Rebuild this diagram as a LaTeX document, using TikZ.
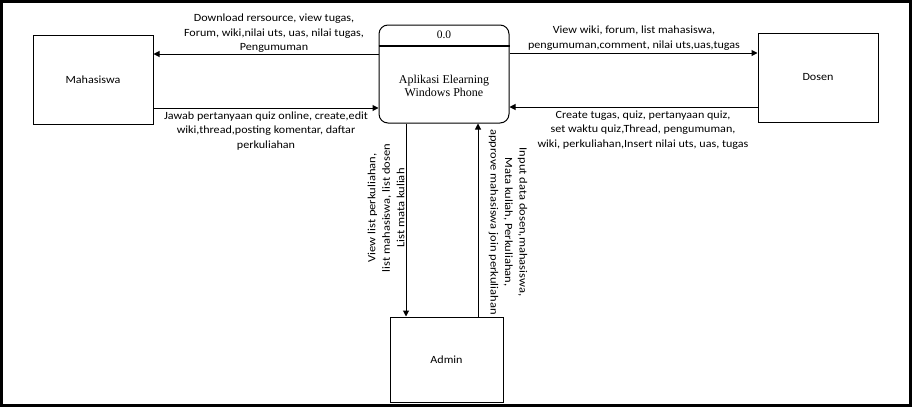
\documentclass[tikz,border=0pt]{standalone}
\usepackage{fontspec}
\setmainfont{Carlito}
\newfontfamily\widecal[FakeStretch=1.1]{Carlito}
\newfontfamily\widercal[FakeStretch=1.14]{Carlito}
\newfontfamily\serifproc{Liberation Serif}
\usetikzlibrary{arrows.meta}
\begin{document}
\begin{tikzpicture}[x=1pt,y=-1pt,
  ext/.style={draw,line width=1pt,inner sep=0pt,font=\widecal\fontsize{11}{12}\selectfont},
  arr/.style={line width=1pt,-{Triangle[length=6pt,width=6pt]}},
  lbl/.style={align=center,inner sep=0pt,font=\widecal\fontsize{11}{14.5}\selectfont},
  vlbl/.style={align=center,inner sep=0pt,font=\widercal\fontsize{11}{14.5}\selectfont}]
\useasboundingbox (0,0) rectangle (912,407);
\draw[line width=3pt] (1.5,1.5) rectangle (910.5,405.5);
\draw[line width=2pt] (0,2) -- (912,2);
% nodes
\node[ext,minimum width=120pt,minimum height=89pt] (mhs) at (93,79.5) {Mahasiswa};
\node[ext,minimum width=120pt,minimum height=89pt] (dsn) at (818,77.5) {Dosen};
\node[ext,minimum width=113pt,minimum height=85pt] (adm) at (446.5,359.5) {Admin};
\node[draw,line width=1pt,rounded corners=9pt,minimum width=130pt,minimum height=98pt,inner sep=0pt] (proc) at (444,74) {};
\draw[line width=2pt] (proc.west |- 0,46) -- (proc.east |- 0,46);
\node[font=\serifproc\fontsize{11.5}{12}\selectfont,inner sep=0pt] (pid) at (444,35) {0.0};
\node[font=\serifproc\fontsize{12}{13.5}\selectfont,align=center,inner sep=0pt] (pname) at (444,86) {Aplikasi Elearning\\Windows Phone};
% connectors
\draw[arr] (proc.west |- 0,54) -- (mhs.east |- 0,54);
\draw[arr] (mhs.east |- 0,108) -- (proc.west |- 0,108);
\draw[arr] (proc.east |- 0,53) -- (dsn.west |- 0,53);
\draw[arr] (dsn.west |- 0,107) -- (proc.east |- 0,107);
\draw[arr] (proc.south -| 406,0) -- (adm.north -| 406,0);
\draw[arr] (adm.north -| 478,0) -- (proc.south -| 478,0);
% labels
\node[lbl] (l1) at (274,33.5) {Download rersource, view tugas,\\Forum, wiki,nilai uts, uas, nilai tugas,\\Pengumuman};
\node[lbl] (l2) at (266,131) {Jawab pertanyaan quiz online, create,edit\\wiki,thread,posting komentar, daftar\\perkuliahan};
\node[lbl] (l3) at (634,38) {View wiki, forum, list mahasiswa,\\pengumuman,comment, nilai uts,uas,tugas};
\node[lbl] (l4) at (643,130) {Create tugas, quiz, pertanyaan quiz,\\set waktu quiz,Thread, pengumuman,\\wiki, perkuliahan,Insert nilai uts, uas, tugas};
\node[vlbl,rotate=90] (l5) at (386,208) {View list perkuliahan,\\list mahasiswa, list dosen\\List mata kuliah};
\node[vlbl,rotate=-90] (l6) at (508,222) {Input data dosen,mahasiswa,\\Mata kuliah, Perkuliahan,\\approve mahasiswa join perkuliahan};
\end{tikzpicture}
\end{document}
